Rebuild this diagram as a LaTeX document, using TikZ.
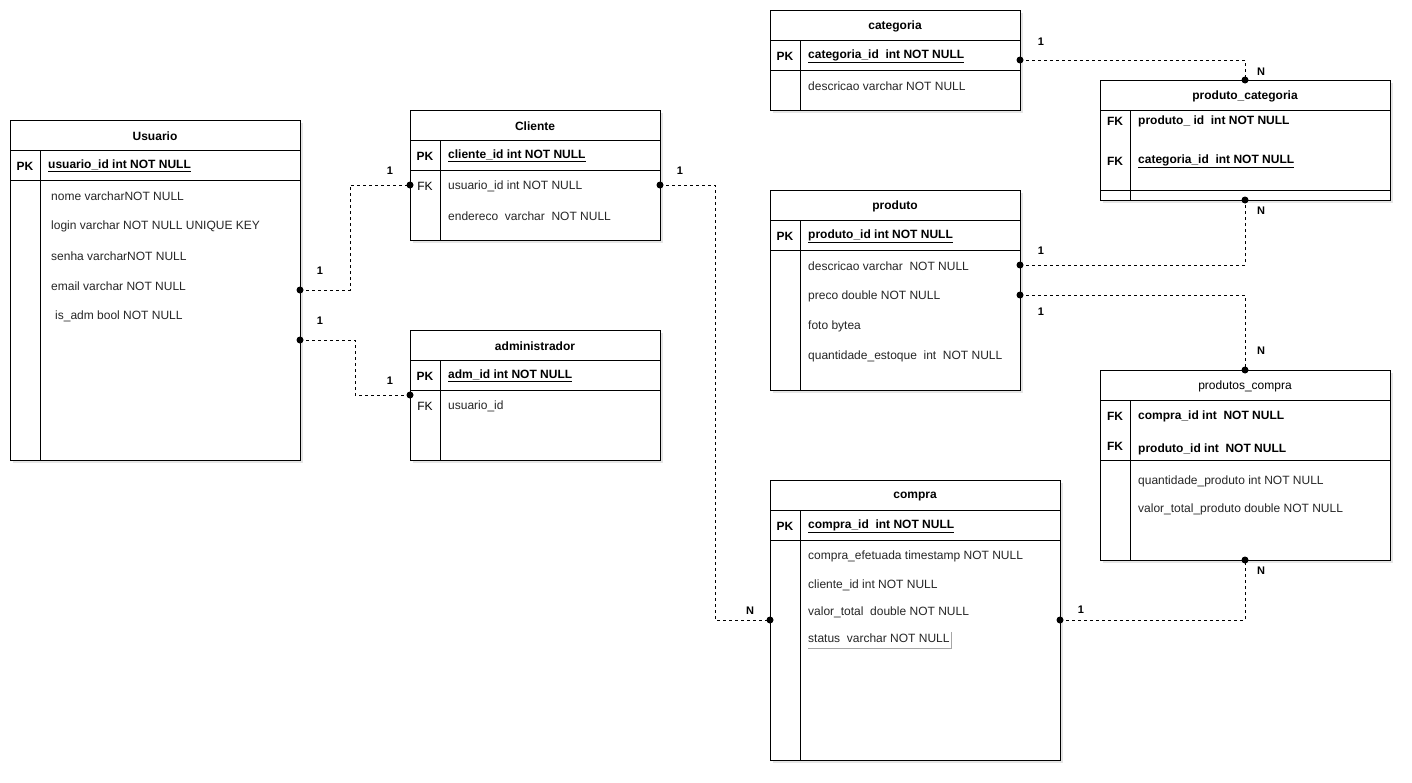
\documentclass[tikz,border=0pt]{standalone}
\usepackage{fontspec}
\setmainfont{Liberation Sans}
\usetikzlibrary{calc}

% one entity box: name, left, top, width, height, width of the key column
\newcommand{\ertable}[6]{%
  \fill[black, opacity=0.10] (#2+3,#3+3) rectangle ++(#4,#5);
  \node[tbl, minimum width=#4pt, minimum height=#5pt] (#1) at (#2,#3) {};
  \draw[line width=0.9pt] (#2,#3+30) -- ++(#4,0);
  \draw[line width=0.9pt] (#2+#6,#3+30) -- (#2+#6,#3+#5);
}

\begin{document}
\begin{tikzpicture}[x=1pt,y=-1pt,
  tbl/.style={draw=black, line width=0.9pt, fill=white, anchor=north west, inner sep=0pt, outer sep=0pt},
  txt/.style={inner sep=0pt, yshift=-1pt},
  hdr/.style={txt, font=\fontsize{12}{14}\selectfont\bfseries},
  hdrplain/.style={txt, font=\fontsize{12}{14}\selectfont},
  fld/.style={txt, font=\fontsize{12}{14}\selectfont, anchor=west, text=black!85},
  pkfld/.style={txt, font=\fontsize{12}{14}\selectfont\bfseries, anchor=west},
  key/.style={txt, font=\fontsize{12}{14}\selectfont},
  keyb/.style={txt, font=\fontsize{12}{14}\selectfont\bfseries},
  rel/.style={dash pattern=on 3pt off 3pt, line width=0.8pt},
  dot/.style={circle, fill=black, inner sep=0pt, minimum size=7pt},
  card/.style={txt, font=\fontsize{11}{13}\selectfont\bfseries}]

\useasboundingbox[fill=white] (0,0) rectangle (1412,782);

% ---------- Usuario ----------
\ertable{usuario}{10}{120}{290}{340}{30}
\draw[line width=0.9pt] (10,180) -- (300,180);
\node[hdr] (usuario-h) at (155,135) {Usuario};
\node[keyb] (usuario-k1) at (25,165) {PK};
\node[pkfld] (usuario-f1) at (48,165) {\underline{usuario\_id int NOT NULL}};
\node[fld] (usuario-f2) at (51,195) {nome varcharNOT NULL};
\node[fld] (usuario-f3) at (51,225) {login varchar NOT NULL UNIQUE KEY};
\node[fld] (usuario-f4) at (51,255) {senha varcharNOT NULL};
\node[fld] (usuario-f5) at (51,285) {email varchar NOT NULL};
\node[fld] (usuario-f6) at (55,315) {is\_adm bool NOT NULL};

% ---------- Cliente ----------
\ertable{cliente}{410}{110}{250}{130}{30}
\draw[line width=0.9pt] (410,170) -- (660,170);
\node[hdr] (cliente-h) at (535,125) {Cliente};
\node[keyb] (cliente-k1) at (425,155) {PK};
\node[pkfld] (cliente-f1) at (448,155) {\underline{cliente\_id int NOT NULL}};
\node[key] (cliente-k2) at (425,185) {FK};
\node[fld] (cliente-f2) at (448,185) {usuario\_id int NOT NULL};
\node[fld] (cliente-f3) at (448,215) {endereco\ \ varchar\ \ NOT NULL};

% ---------- administrador ----------
\ertable{adm}{410}{330}{250}{130}{30}
\draw[line width=0.9pt] (410,390) -- (660,390);
\node[hdr] (adm-h) at (535,345) {administrador};
\node[keyb] (adm-k1) at (425,375) {PK};
\node[pkfld] (adm-f1) at (448,375) {\underline{adm\_id int NOT NULL}};
\node[key] (adm-k2) at (425,405) {FK};
\node[fld] (adm-f2) at (448,405) {usuario\_id};

% ---------- categoria ----------
\ertable{categoria}{770}{10}{250}{100}{30}
\draw[line width=0.9pt] (770,70) -- (1020,70);
\node[hdr] (categoria-h) at (895,25) {categoria};
\node[keyb] (categoria-k1) at (785,55) {PK};
\node[pkfld] (categoria-f1) at (808,55) {\underline{categoria\_id\ \ int NOT NULL}};
\node[fld] (categoria-f2) at (808,85) {descricao varchar NOT NULL};

% ---------- produto_categoria ----------
\ertable{prodcat}{1100}{80}{290}{120}{30}
\draw[line width=0.9pt] (1100,190) -- (1390,190);
\node[hdr] (prodcat-h) at (1245,95) {produto\_categoria};
\node[keyb] (prodcat-k1) at (1115,120) {FK};
\node[pkfld] (prodcat-f1) at (1138,120) {produto\_\ id\ \ int NOT NULL};
\node[keyb] (prodcat-k2) at (1115,160) {FK};
\node[pkfld] (prodcat-f2) at (1138,160) {\underline{categoria\_id\ \ int NOT NULL}};

% ---------- produto ----------
\ertable{produto}{770}{190}{250}{200}{30}
\draw[line width=0.9pt] (770,250) -- (1020,250);
\node[hdr] (produto-h) at (895,205) {produto};
\node[keyb] (produto-k1) at (785,235) {PK};
\node[pkfld] (produto-f1) at (808,235) {\underline{produto\_id int NOT NULL}};
\node[fld] (produto-f2) at (808,265) {descricao varchar\ \ NOT NULL};
\node[fld] (produto-f3) at (808,295) {preco double NOT NULL};
\node[fld] (produto-f4) at (808,325) {foto bytea};
\node[fld] (produto-f5) at (808,355) {quantidade\_estoque\ \ int\ \ NOT NULL};

% ---------- produtos_compra ----------
\ertable{prodcompra}{1100}{370}{290}{190}{30}
\draw[line width=0.9pt] (1100,460) -- (1390,460);
\node[hdrplain] (prodcompra-h) at (1245,385) {produtos\_compra};
\node[keyb] (prodcompra-k1) at (1115,415) {FK};
\node[pkfld] (prodcompra-f1) at (1138,415) {compra\_id int\ \ NOT NULL};
\node[keyb] (prodcompra-k2) at (1115,445) {FK};
\node[pkfld] (prodcompra-f2) at (1138,448) {produto\_id int\ \ NOT NULL};
\node[fld] (prodcompra-f3) at (1138,480) {quantidade\_produto int NOT NULL};
\node[fld] (prodcompra-f4) at (1138,508) {valor\_total\_produto double NOT NULL};

% ---------- compra ----------
\ertable{compra}{770}{480}{290}{280}{30}
\draw[line width=0.9pt] (770,540) -- (1060,540);
\node[hdr] (compra-h) at (915,495) {compra};
\node[keyb] (compra-k1) at (785,525) {PK};
\node[pkfld] (compra-f1) at (808,525) {\underline{compra\_id\ \ int NOT NULL}};
\node[fld] (compra-f2) at (808,555) {compra\_efetuada timestamp NOT NULL};
\node[fld] (compra-f3) at (808,584) {cliente\_id int NOT NULL};
\node[fld] (compra-f4) at (808,611) {valor\_total\ \ double NOT NULL};
\node[fld] (compra-f5) at (808,637) {status\ \ varchar NOT NULL};
\draw[black!35, line width=0.8pt] (808,648) -- (951,648) -- (951,632);

% ---------- relationship end points ----------
\coordinate (usuA) at (300,290);
\coordinate (usuB) at (300,340);
\coordinate (cliL) at (410,185);
\coordinate (cliR) at (660,185);
\coordinate (admL) at (410,395);
\coordinate (comL) at (770,620);
\coordinate (comR) at (1060,620);
\coordinate (catR) at (1020,60);
\coordinate (pcT) at (1245,80);
\coordinate (pcB) at (1245,200);
\coordinate (proA) at (1020,265);
\coordinate (proB) at (1020,295);
\coordinate (pkT) at (1245,370);
\coordinate (pkB) at (1245,560);

% ---------- relationships ----------
\draw[rel] (usuA) -- ++(50,0) |- (cliL);
\draw[rel] (usuB) -- ++(55,0) |- (admL);
\draw[rel] (cliR) -- ++(55,0) |- (comL);
\draw[rel] (catR) -| (pcT);
\draw[rel] (proA) -| (pcB);
\draw[rel] (proB) -| (pkT);
\draw[rel] (comR) -| (pkB);

\foreach \p in {usuA,usuB,cliL,cliR,admL,comL,comR,catR,pcT,pcB,proA,proB,pkT,pkB}
  \node[dot] at (\p) {};

% ---------- cardinalities ----------
\node[card] (c1) at (320,270) {1};
\node[card] (c2) at (390,170) {1};
\node[card] (c3) at (320,320) {1};
\node[card] (c4) at (390,380) {1};
\node[card] (c5) at (680,170) {1};
\node[card] (c6) at (750,610) {N};
\node[card] (c7) at (1041,41) {1};
\node[card] (c8) at (1261,71) {N};
\node[card] (c9) at (1041,250) {1};
\node[card] (c10) at (1261,210) {N};
\node[card] (c11) at (1041,311) {1};
\node[card] (c12) at (1261,350) {N};
\node[card] (c13) at (1081,609) {1};
\node[card] (c14) at (1261,570) {N};

\end{tikzpicture}
\end{document}
